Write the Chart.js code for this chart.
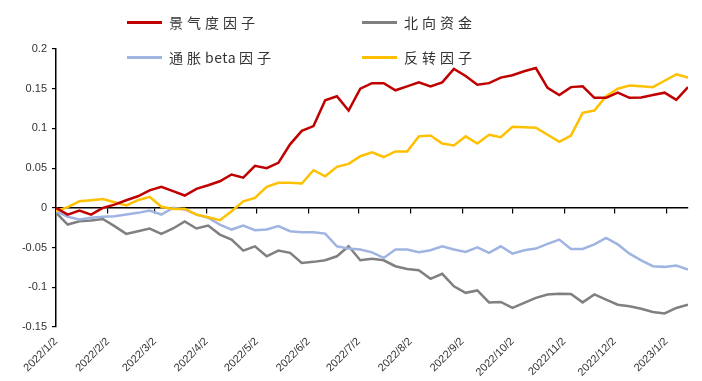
<!DOCTYPE html>
<html><head><meta charset="utf-8">
<script src="https://cdn.jsdelivr.net/npm/chart.js@4/dist/chart.umd.min.js"></script>
<style>
html,body{margin:0;padding:0;background:#fff;}
#wrap{position:relative;width:702px;height:381px;}
#legend{position:absolute;left:0;top:0;width:702px;height:75px;font-family:"Noto Sans CJK SC","Noto Sans",sans-serif;}
.item{position:absolute;display:flex;align-items:center;height:20px;font-size:14px;letter-spacing:4px;color:#333;white-space:nowrap;}
.sw{width:35px;height:3px;margin-right:7px;}
.lat{letter-spacing:0.5px;margin-right:3px;}
</style></head>
<body><div id="wrap"><canvas id="c" width="702" height="381"></canvas><div id="legend"></div></div>
<script>
const dates = ['2022/1/2','2022/1/9','2022/1/16','2022/1/23','2022/1/30','2022/2/6','2022/2/13','2022/2/20','2022/2/27',
 '2022/3/6','2022/3/13','2022/3/20','2022/3/27','2022/4/3','2022/4/10','2022/4/17','2022/4/24',
 '2022/5/1','2022/5/8','2022/5/15','2022/5/22','2022/5/29','2022/6/5','2022/6/12','2022/6/19','2022/6/26',
 '2022/7/3','2022/7/10','2022/7/17','2022/7/24','2022/7/31','2022/8/7','2022/8/14','2022/8/21','2022/8/28',
 '2022/9/4','2022/9/11','2022/9/18','2022/9/25','2022/10/2','2022/10/9','2022/10/16','2022/10/23','2022/10/30',
 '2022/11/6','2022/11/13','2022/11/20','2022/11/27','2022/12/4','2022/12/11','2022/12/18','2022/12/25',
 '2023/1/1','2023/1/8','2023/1/15'];
const tickLabels = ['2022/1/2','2022/2/2','2022/3/2','2022/4/2','2022/5/2','2022/6/2','2022/7/2','2022/8/2','2022/9/2','2022/10/2','2022/11/2','2022/12/2','2023/1/2'];
const seriesNames = ['景气度因子','北向资金','通胀beta因子','反转因子'];
const jingqi = [0,-0.0085,-0.0035,-0.0085,0,0.004,0.0096,0.0146,0.022,0.0264,0.021,0.0155,0.024,0.0285,0.0335,
 0.042,0.038,0.053,0.050,0.0567,0.080,0.097,0.103,0.1355,0.1405,0.1225,0.150,0.157,0.157,0.148,
 0.153,0.158,0.153,0.158,0.175,0.166,0.155,0.157,0.164,0.167,0.172,0.176,0.151,0.142,0.152,
 0.153,0.1385,0.1385,0.145,0.1385,0.139,0.142,0.145,0.136,0.152];
const beixiang = [-0.006,-0.021,-0.017,-0.016,-0.014,-0.023,-0.0328,-0.0294,-0.026,-0.0328,-0.026,-0.017,-0.026,-0.0223,-0.0336,
 -0.040,-0.0538,-0.0484,-0.061,-0.0538,-0.0567,-0.0693,-0.068,-0.066,-0.061,-0.0484,-0.066,-0.064,-0.066,-0.0735,
 -0.077,-0.0786,-0.0894,-0.083,-0.0987,-0.107,-0.104,-0.119,-0.1184,-0.126,-0.1196,-0.1133,-0.109,-0.108,-0.1083,
 -0.119,-0.109,-0.1155,-0.122,-0.124,-0.127,-0.131,-0.133,-0.126,-0.122];
const tongzhang = [-0.004,-0.0113,-0.0147,-0.0126,-0.0113,-0.0105,-0.0084,-0.0063,-0.0034,-0.0084,0,-0.002,-0.0084,-0.0125,-0.021,
 -0.0273,-0.0223,-0.0282,-0.0273,-0.023,-0.0294,-0.0307,-0.0307,-0.0324,-0.0484,-0.0513,-0.0525,-0.056,-0.063,-0.0525,
 -0.0525,-0.056,-0.0534,-0.0484,-0.0525,-0.0554,-0.0496,-0.0567,-0.0484,-0.0576,-0.0534,-0.0513,-0.0454,-0.040,-0.0517,
 -0.0517,-0.046,-0.0378,-0.046,-0.0576,-0.066,-0.0735,-0.0743,-0.0727,-0.0777];
const fanzhuan = [-0.004,0.001,0.0083,0.0096,0.011,0.007,0.003,0.0096,0.0139,0.0013,-0.0013,-0.001,-0.0085,-0.0118,-0.0156,
 -0.0043,0.0083,0.0126,0.0264,0.0315,0.0315,0.0306,0.0474,0.0398,0.0516,0.0554,0.065,0.070,0.064,0.071,
 0.071,0.090,0.091,0.081,0.0785,0.090,0.081,0.092,0.089,0.102,0.1015,0.101,0.092,0.083,0.091,
 0.1196,0.1225,0.1405,0.150,0.154,0.153,0.152,0.160,0.168,0.164];
const colors = ['#C00000','#808080','#A0B4E2','#FFC000'];

const toUTC = s => { const [y,m,d] = s.split('/').map(Number); return Date.UTC(y, m-1, d); };
const base = toUTC(dates[0]);
const dayOf = s => Math.round((toUTC(s) - base) / 86400000);
const tickDays = tickLabels.map(dayOf);
const maxDay = dayOf(dates[dates.length-1]);
const labelFor = v => { const k = tickDays.indexOf(Math.round(v)); return k >= 0 ? tickLabels[k] : ''; };
const setTicks = s => { s.ticks = tickDays.map(v => ({value: v})); };

const allSeries = [jingqi, beixiang, tongzhang, fanzhuan];
const datasets = allSeries.map((arr, k) => ({
  label: seriesNames[k],
  data: dates.map((d, i) => ({x: dayOf(d), y: arr[i]})),
  borderColor: colors[k], backgroundColor: colors[k],
  borderWidth: 2.5, pointRadius: 0, tension: 0, fill: false,
  xAxisID: 'x', yAxisID: 'y'
}));
const order = [1,2,3,0];
order.forEach((k, j) => datasets[k].order = 4 - j);

new Chart(document.getElementById('c'), {
  type: 'line',
  data: { datasets },
  options: {
    responsive: false, animation: false, devicePixelRatio: 1,
    layout: { padding: { left: 0, right: 14, top: 49, bottom: 0 } },
    plugins: { legend: { display: false }, tooltip: { enabled: false } },
    scales: {
      x: {
        type: 'linear', position: { y: 0 }, min: 0, max: maxDay,
        afterBuildTicks: setTicks,
        grid: { drawOnChartArea: false, drawTicks: true, tickLength: 5, color: '#000', lineWidth: 1.2 },
        border: { display: true, color: '#000', width: 1.5 },
        ticks: { display: false }
      },
      x2: {
        type: 'linear', position: 'bottom', min: 0, max: maxDay,
        afterBuildTicks: setTicks,
        grid: { display: false }, border: { display: false },
        ticks: { autoSkip: false, maxRotation: 45, minRotation: 45, padding: 0,
          font: { family: 'Liberation Sans, Arial', size: 11 }, color: '#333',
          callback: v => labelFor(v) },
        afterFit: s => { s.height = 54; }
      },
      y: {
        min: -0.15, max: 0.2,
        ticks: { stepSize: 0.05, padding: 5, font: { family: 'Liberation Sans, Arial', size: 11 }, color: '#333',
          callback: v => { const r = Math.round(v * 100) / 100; return String(r); } },
        grid: { drawOnChartArea: false, drawTicks: true, tickLength: 4, color: '#000', lineWidth: 1.2 },
        border: { display: true, color: '#000', width: 1.5 },
        afterFit: s => { s.width = 56; }
      }
    }
  }
});

const legendPos = [[127, 12], [362, 12], [127, 47], [362, 47]];
const leg = document.getElementById('legend');
seriesNames.forEach((name, k) => {
  const it = document.createElement('div');
  it.className = 'item';
  it.style.left = legendPos[k][0] + 'px';
  it.style.top = legendPos[k][1] + 'px';
  const sw = document.createElement('span'); sw.className = 'sw'; sw.style.background = colors[k];
  it.appendChild(sw);
  name.split(/([A-Za-z]+)/).filter(p => p).forEach(p => {
    const tx = document.createElement('span');
    tx.textContent = p;
    if (/^[A-Za-z]+$/.test(p)) tx.className = 'lat';
    it.appendChild(tx);
  });
  leg.appendChild(it);
});
</script>
</body></html>
